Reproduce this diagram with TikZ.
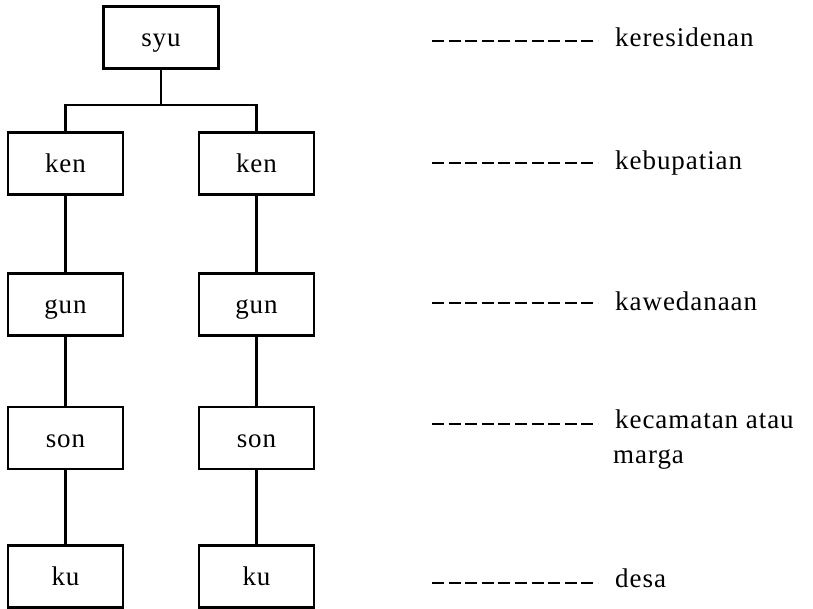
\documentclass[tikz,border=0pt]{standalone}
\usepackage{fontspec}
\setmainfont{Liberation Serif}[LetterSpace=3.5]
\begin{document}
\begin{tikzpicture}[x=1pt,y=-1pt,
  box/.style={draw, line width=2.2pt, minimum width=115pt, minimum height=62pt,
    inner sep=0pt, text height=20pt, text depth=2pt, font=\fontsize{27}{31}\selectfont},
  link/.style={line width=2.2pt},
  dashline/.style={line width=1.3pt, dash pattern=on 12pt off 4.6pt},
  lbl/.style={anchor=base west, inner sep=0pt, font=\fontsize{27}{31}\selectfont}]
\useasboundingbox (0,0) rectangle (813,609);
% boxes
\node[box] (syu) at (161,37.5) {syu};
\node[box] (kenL) at (65.5,163.5) {ken};
\node[box] (kenR) at (256.5,163.5) {ken};
\node[box] (gunL) at (65.5,304.5) {gun};
\node[box] (gunR) at (256.5,304.5) {gun};
\node[box] (sonL) at (65.5,438) {son};
\node[box] (sonR) at (256.5,438) {son};
\node[box] (kuL) at (65.5,576.5) {ku};
\node[box] (kuR) at (256.5,576.5) {ku};
% connectors
\coordinate (j) at (161,105);
\draw[link] (syu.south) -- (j);
\draw[link] (kenL.north) |- (j) -| (kenR.north);
\draw[link] (kenL) -- (gunL);
\draw[link] (kenR) -- (gunR);
\draw[link] (gunL) -- (sonL);
\draw[link] (gunR) -- (sonR);
\draw[link] (sonL) -- (kuL);
\draw[link] (sonR) -- (kuR);
% labels
\node[lbl] (l1) at (615,47) {keresidenan};
\node[lbl] (l2) at (615,170) {kebupatian};
\node[lbl] (l3) at (615,311) {kawedanaan};
\node[lbl] (l4) at (615,428) {kecamatan atau};
\node[lbl] (l4b) at (613,463) {marga};
\node[lbl] (l5) at (615,587) {desa};
% dashed leaders
\coordinate (d1) at (432,41);
\coordinate (d2) at (432,163);
\coordinate (d3) at (432,303);
\coordinate (d4) at (432,424);
\coordinate (d5) at (432,583);
\draw[dashline] (d1) -- ++(166,0);
\draw[dashline] (d2) -- ++(166,0);
\draw[dashline] (d3) -- ++(166,0);
\draw[dashline] (d4) -- ++(166,0);
\draw[dashline] (d5) -- ++(166,0);
\end{tikzpicture}
\end{document}
